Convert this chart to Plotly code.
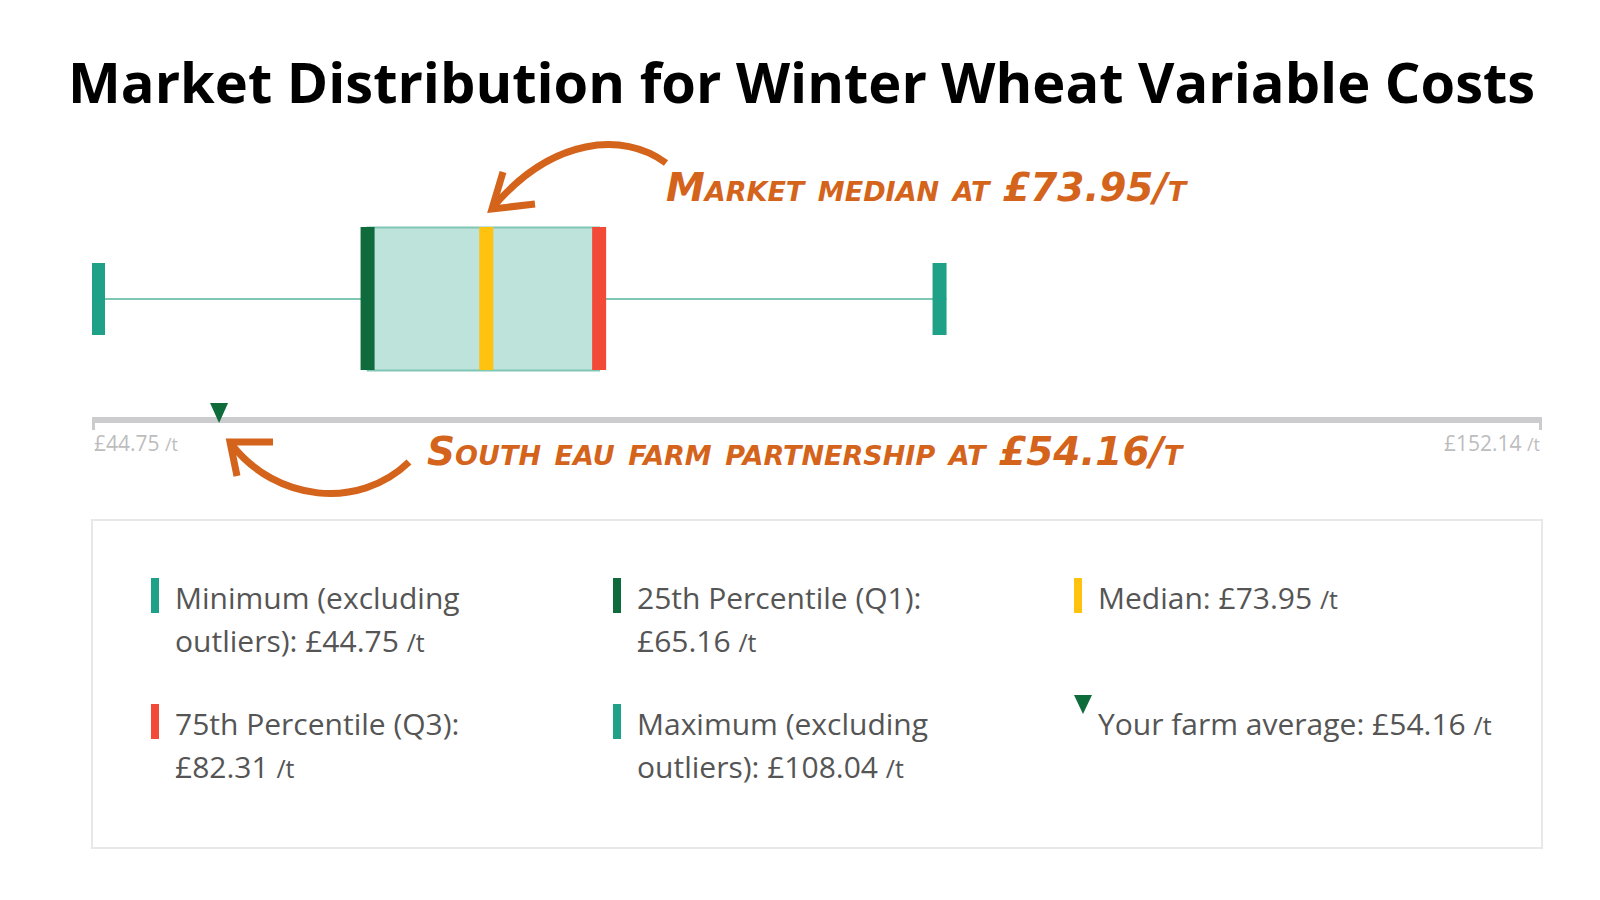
import plotly.graph_objects as go

# summary statistics (£/t)
stat_labels = ['Minimum (excluding<br>outliers): ', '25th Percentile (Q1):<br>', 'Median: ',
               '75th Percentile (Q3):<br>', 'Maximum (excluding<br>outliers): ', 'Your farm average: ']
stat_values = [44.75, 65.16, 73.95, 82.31, 108.04, 54.16]
stat_colors = ['#1FA187', '#0F6B3B', '#FFC20F', '#F24A37', '#1FA187', '#0E6B3A']
axis_range = [44.75, 152.14]
farm_name = 'South eau farm partnership'

vmin, q1, med, q3, vmax, farm = stat_values

W, H, L, R = 1600, 900, 84, 66
PW = W - L - R


def px(x):
    # pixel column -> paper x
    return (x - L) / PW


def py(y):
    return 1 - y / H


fig = go.Figure()

# box body + whiskers
fig.add_trace(go.Box(
    orientation='h', y=[291], q1=[q1], median=[med], q3=[q3],
    lowerfence=[vmin], upperfence=[vmax], width=143, whiskerwidth=0,
    fillcolor='#BDE3DB', line=dict(color='#80C6B5', width=2),
    boxpoints=False, hoverinfo='skip', showlegend=False))

shapes = []
# coloured bars on the box (pixel widths anchored at the values)
bar_specs = [(vmin, 0, 13, 255, 327, stat_colors[0]),
             (q1, -7, 7, 219, 362, stat_colors[1]),
             (med, -7, 7, 219, 362, stat_colors[2]),
             (q3, -7, 7, 219, 362, stat_colors[3]),
             (vmax, -14, 0, 255, 327, stat_colors[4])]
for v, a, b, y0, y1, c in bar_specs:
    shapes.append(dict(type='rect', xref='x', yref='y', xsizemode='pixel', xanchor=v,
                       x0=a, x1=b, y0=y0, y1=y1, fillcolor=c, line_width=0, layer='above'))

# value axis line
shapes.append(dict(type='line', xref='x', yref='y', x0=axis_range[0], x1=axis_range[1],
                   y0=412, y1=412, line=dict(color='#CCCBCD', width=6)))
for v, a, b in [(axis_range[0], 0, 3), (axis_range[1], -3, 0)]:
    shapes.append(dict(type='rect', xref='x', yref='y', xsizemode='pixel', xanchor=v,
                       x0=a, x1=b, y0=409, y1=422, fillcolor='#CCCBCD', line_width=0))

# farm marker on the axis (triangle anchored at the farm value)
shapes.append(dict(type='path', xref='x', yref='y', xsizemode='pixel', xanchor=farm,
                   path='M -9,395 L 9,395 L 0,415 Z', fillcolor=stat_colors[5], line_width=0,
                   layer='above'))

# legend frame
shapes.append(dict(type='rect', xref='paper', yref='y', x0=0, x1=1, y0=512, y1=840,
                   line=dict(color='#E8E8E8', width=2), fillcolor='rgba(0,0,0,0)'))

# hand-drawn arrows
orange = '#D4631B'
arrow_paths = [
    'M {},{} C {},{} {},{} {},{}'.format(px(658), py(155), px(615), py(123), px(544), py(130), px(486), py(198)),
    'M {},{} L {},{} L {},{}'.format(px(495), py(164), px(484), py(201), px(527), py(196)),
    'M {},{} C {},{} {},{} {},{}'.format(px(401), py(454), px(350), py(503), px(268), py(493), px(224), py(437)),
    'M {},{} L {},{} L {},{}'.format(px(229), py(468), px(222), py(434), px(265), py(434)),
]
for p in arrow_paths:
    shapes.append(dict(type='path', xref='paper', yref='paper', path=p,
                       line=dict(color=orange, width=7), fillcolor='rgba(0,0,0,0)'))

annotations = []
# axis end labels
for v, anchor in [(axis_range[0], 'left'), (axis_range[1], 'right')]:
    annotations.append(dict(x=v, y=435, xref='x', yref='y', xanchor=anchor, yanchor='middle',
                            text='£{:.2f} <span style="font-size:18px">/t</span>'.format(v),
                            showarrow=False, font=dict(family='Open Sans', size=21, color='#BDBDBD')))

# handwritten callouts
hand_font = dict(family='DejaVu Sans', size=39, color=orange,
                 weight='bold', style='italic', variant='small-caps')
annotations.append(dict(x=px(656), y=179, xref='paper', yref='y', xanchor='left', yanchor='middle',
                        text='Market median at £{:.2f}/t'.format(med), showarrow=False, font=hand_font))
annotations.append(dict(x=px(417), y=443, xref='paper', yref='y', xanchor='left', yanchor='middle',
                        text='{} at £{:.2f}/t'.format(farm_name, farm), showarrow=False, font=hand_font))

# legend items
col_x = [143, 605, 1066]
row_y = [589, 715]
leg_font = dict(family='Open Sans', size=30, color='#555555')
for i, (lab, val, col) in enumerate(zip(stat_labels, stat_values, stat_colors)):
    cx = col_x[i % 3]
    ry = row_y[i // 3]
    full = lab + '£{:.2f} <span style="font-size:25px">/t</span>'.format(val)
    lines = full.split('<br>')
    for k, ln in enumerate(lines):
        annotations.append(dict(x=px(cx + 22), y=ry + 43 * k, xref='paper', yref='y',
                                xanchor='left', yanchor='middle', text=ln, showarrow=False,
                                font=leg_font))
    if i == 5:
        shapes.append(dict(type='path', xref='paper', yref='paper',
                           path='M {},{} L {},{} L {},{} Z'.format(px(cx), py(687), px(cx + 18), py(687),
                                                                   px(cx + 9), py(706)),
                           fillcolor=col, line_width=0))
    else:
        shapes.append(dict(type='rect', xref='paper', yref='y', x0=px(cx), x1=px(cx + 8),
                           y0=ry - 19, y1=ry + 16, fillcolor=col, line_width=0))

fig.update_layout(
    width=W, height=H,
    margin=dict(l=L, r=R, t=0, b=0),
    paper_bgcolor='white', plot_bgcolor='white',
    title=dict(text='<b>Market Distribution for Winter Wheat Variable Costs</b>',
               x=0.496, xanchor='center', y=1 - 75 / H, yanchor='middle',
               font=dict(family='Open Sans', size=56, color='#000000')),
    xaxis=dict(range=axis_range, visible=False, fixedrange=True),
    yaxis=dict(range=[H, 0], type='linear', visible=False, fixedrange=True),
    shapes=shapes, annotations=annotations, showlegend=False,
)

fig.write_html('out.html')
